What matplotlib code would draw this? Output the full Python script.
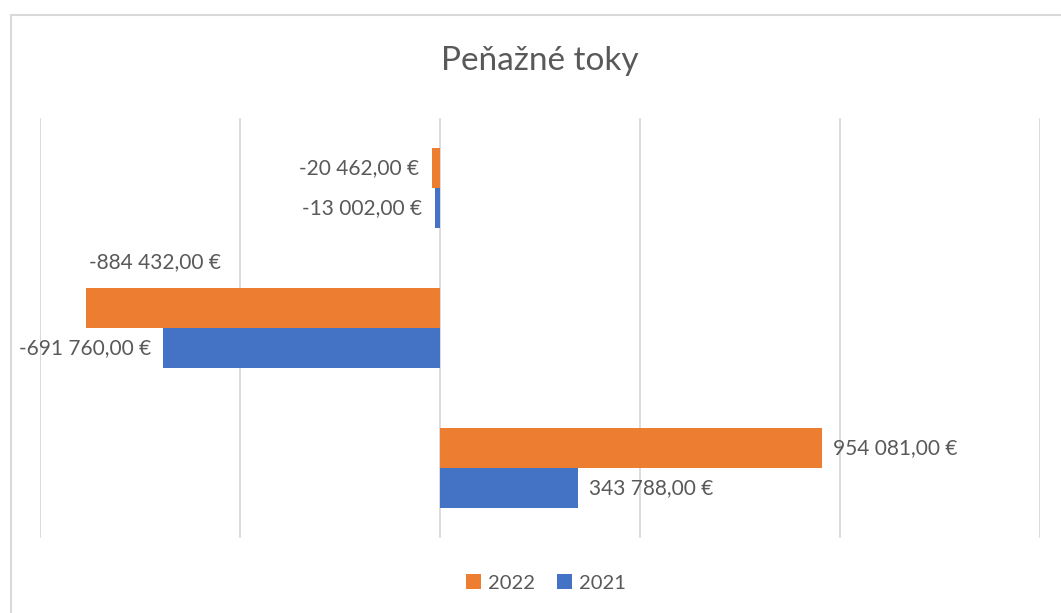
import matplotlib.pyplot as plt
from matplotlib.patches import Rectangle
import numpy as np

categories = ['A', 'B', 'C']
series_names = ['2022', '2021']
values_2022 = [-20462.00, -884432.00, 954081.00]
values_2021 = [-13002.00, -691760.00, 343788.00]

orange = '#ED7D31'
blue = '#4472C4'
text_col = '#595959'
grid_col = '#D9D9D9'

plt.rcParams['font.family'] = ['Lato', 'DejaVu Sans']


def fmt(v):
    s = '{:,.2f}'.format(v).replace(',', ' ').replace('.', ',')
    return s + ' €'


fig = plt.figure(figsize=(10.61, 6.13), dpi=100)
ax = fig.add_axes([40 / 1061, 1 - 538 / 613, 1000 / 1061, 420 / 613])

# chart frame
fig.patches.append(Rectangle((11 / 1061, -0.1), 1.2, 1 - 15 / 613 + 0.1,
                             transform=fig.transFigure, fill=False,
                             edgecolor=grid_col, linewidth=1.5))

y = np.arange(len(categories))
h = 40 / 140
ax.barh(y - h / 2, values_2022, height=h, color=orange, label=series_names[0], zorder=3)
ax.barh(y + h / 2, values_2021, height=h, color=blue, label=series_names[1], zorder=3)

ax.set_xlim(-1000000, 1500000)
ax.set_ylim(len(categories) - 0.5, -0.5)
ax.set_xticks(np.arange(-1000000, 1500001, 500000))
ax.set_yticks([])
ax.tick_params(axis='x', length=0, labelbottom=False)
ax.grid(axis='x', color=grid_col, linewidth=1.3, zorder=0)
for s in ax.spines.values():
    s.set_visible(False)

# data labels
fs = 15
for vals, off in [(values_2022, -h / 2), (values_2021, h / 2)]:
    for i, v in enumerate(vals):
        if v < -800000:
            # no room on the left, label sits above the bar
            ax.annotate(fmt(v), (v, y[i] + off - h / 2), xytext=(2, 19),
                        textcoords='offset points', ha='left', va='center',
                        fontsize=fs, color=text_col)
        elif v < 0:
            ax.annotate(fmt(v), (v, y[i] + off), xytext=(-9, 0),
                        textcoords='offset points', ha='right', va='center',
                        fontsize=fs, color=text_col)
        else:
            ax.annotate(fmt(v), (v, y[i] + off), xytext=(8, 0),
                        textcoords='offset points', ha='left', va='center',
                        fontsize=fs, color=text_col)

fig.text(540 / 1061, 1 - 61 / 613, 'Peňažné toky', ha='center', va='center',
         fontsize=24, color=text_col)

leg = fig.legend(loc='center', bbox_to_anchor=(546 / 1061, 1 - 583 / 613), ncol=2,
                 frameon=False, fontsize=14.5, handlelength=0.75, handleheight=0.75,
                 handletextpad=0.35, columnspacing=1.1)
for t in leg.get_texts():
    t.set_color(text_col)

fig.savefig('out.png', dpi=100)
